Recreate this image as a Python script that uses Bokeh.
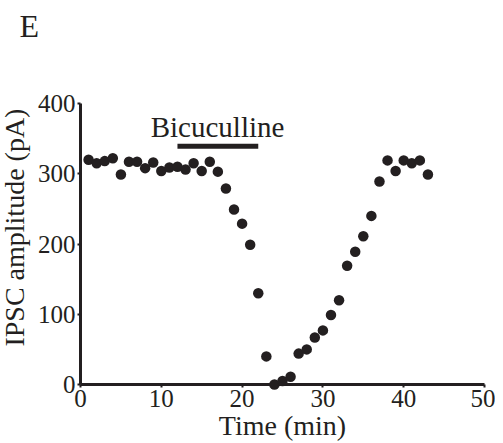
from bokeh.plotting import figure
from bokeh.models import Range1d, FixedTicker
from bokeh.embed import file_html
from bokeh.resources import INLINE
from bokeh.core.properties import value

# Data
time_min = [1, 2, 3, 4, 5, 6, 7, 8, 9, 10, 11, 12, 13, 14, 15, 16, 17, 18, 19, 20, 21, 22,
            23, 24, 25, 26, 27, 28, 29, 30, 31, 32, 33, 34, 35, 36, 37, 38, 39, 40, 41, 42, 43]
ipsc_pa = [320, 315, 318, 322, 299, 317, 317, 308, 316, 304, 309, 310, 306, 315, 304, 317, 303,
           279, 249, 229, 199, 130, 40, 0, 5, 11, 44, 50, 67, 77, 99, 120, 169, 189, 211, 240,
           289, 319, 304, 319, 315, 319, 299]
drug_name = "Bicuculline"
drug_start = [12]
drug_end = [22]
drug_level = [339]
x_ticks = [0, 10, 20, 30, 40, 50]
y_ticks = [0, 100, 200, 300, 400]
y_title = "IPSC amplitude (pA)"
panel_letter = "E"

INK = "#231f20"
FONT = "Liberation Serif"

p = figure(width=495, height=443, output_backend="svg", toolbar_location=None,
           x_range=Range1d(0, 50), y_range=Range1d(0, 400),
           min_border_left=80, min_border_right=11, min_border_top=103, min_border_bottom=58)
p.outline_line_color = None
p.grid.visible = False
p.background_fill_color = "white"
p.border_fill_color = "white"

for ax in (p.xaxis[0], p.yaxis[0]):
    ax.axis_line_width = 3
    ax.axis_line_color = INK
    ax.major_tick_line_color = INK
    ax.major_tick_line_width = 2
    ax.major_tick_out = 3
    ax.major_tick_in = 0
    ax.minor_tick_line_color = None
    ax.major_label_text_font = FONT
    ax.major_label_text_font_size = "25px"
    ax.major_label_text_color = INK
    ax.major_label_standoff = 2

p.xaxis.ticker = FixedTicker(ticks=x_ticks)
p.yaxis.ticker = FixedTicker(ticks=y_ticks)
p.xaxis.axis_label = "Time (min)"
p.xaxis.axis_label_text_font = FONT
p.xaxis.axis_label_text_font_size = "28px"
p.xaxis.axis_label_text_font_style = "normal"
p.xaxis.axis_label_text_color = INK
p.xaxis.axis_label_standoff = 0

p.segment(x0=drug_start, y0=drug_level, x1=drug_end, y1=drug_level,
          line_color=INK, line_width=5)
p.text(x=[16.96], y=[367], text=[drug_name], text_font=value(FONT),
       text_font_size="29px", text_color=INK, text_align="center",
       text_baseline="alphabetic")

r = p.scatter(time_min, ipsc_pa, size=10.5, fill_color=INK, line_color=None)
r.level = "overlay"

t1 = p.text(x=[-8.2], y=[223.4], text=[y_title], angle=[1.5707963],
            text_font=value(FONT), text_font_size="28px", text_color=INK,
            text_align="center", text_baseline="alphabetic")
t1.level = "overlay"
t2 = p.text(x=[-7.55], y=[511], text=[panel_letter], text_font=value(FONT),
            text_font_size="32px", text_color=INK, text_align="left",
            text_baseline="alphabetic")
t2.level = "overlay"

open("out.html", "w").write(file_html(p, INLINE))
